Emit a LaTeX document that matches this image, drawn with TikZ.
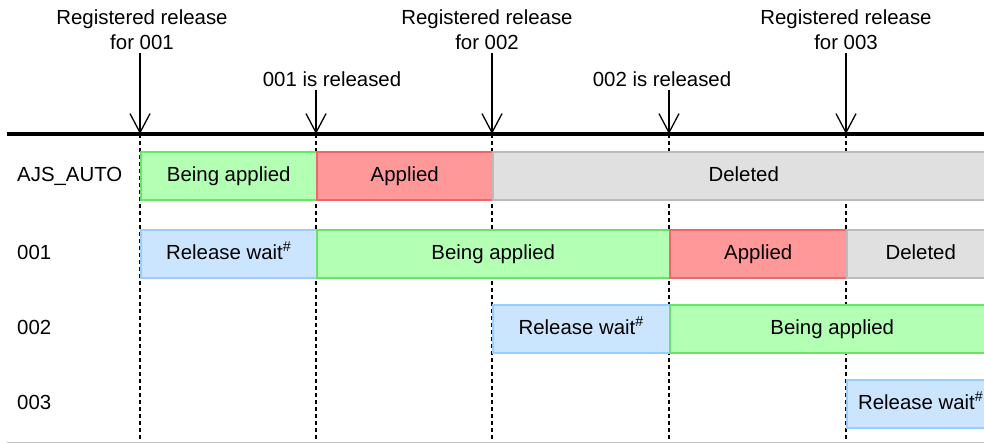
\documentclass[tikz,border=0pt]{standalone}
\usepackage{fontspec}
\setmainfont{Liberation Sans}
\usetikzlibrary{arrows.meta}

\definecolor{applyfill}{HTML}{B3FFB3}
\definecolor{applydraw}{HTML}{66E666}
\definecolor{donefill}{HTML}{FF9999}
\definecolor{donedraw}{HTML}{F06666}
\definecolor{delfill}{HTML}{E0E0E0}
\definecolor{deldraw}{HTML}{BBBBBB}
\definecolor{waitfill}{HTML}{CCE5FF}
\definecolor{waitdraw}{HTML}{99CCFF}

\tikzstyle{event}=[align=center,inner xsep=0pt,inner ysep=3pt]
\tikzstyle{rowname}=[anchor=west,inner sep=0pt,text height=14.5pt,text depth=4pt]
\tikzstyle{state}=[draw,line width=1.5pt,anchor=west,minimum height=48pt,inner sep=0pt,text height=14.5pt,text depth=4pt]
\tikzstyle{being}=[state,fill=applyfill,draw=applydraw]
\tikzstyle{applied}=[state,fill=donefill,draw=donedraw]
\tikzstyle{deleted}=[state,fill=delfill,draw=deldraw]
\tikzstyle{waiting}=[state,fill=waitfill,draw=waitdraw]
\tikzstyle{time arrow}=[draw,line width=1.3pt,-{Straight Barb[length=19pt,width=20pt,line width=1.3pt]}]
\tikzstyle{guide}=[draw,line width=1.3pt,dash pattern=on 4pt off 3pt]

\begin{document}
\begin{tikzpicture}[x=1pt,y=-1pt,every node/.style={font=\fontsize{20.4}{25}\selectfont}]
			\useasboundingbox (0,0) rectangle (984,443);
			\clip (0,0) rectangle (984,443);
			% points on the time line
			\coordinate (t1) at (140,134);
			\coordinate (t2) at (316,134);
			\coordinate (t3) at (492,134);
			\coordinate (t4) at (669,134);
			\coordinate (t5) at (846,134);
			\coordinate (left) at (7,134);
			\coordinate (right) at (984,134);
			\coordinate (bottom) at (7,442);
			% what happens
			\node[event] (reg1) at (142,30) {Registered release\\for 001};
			\node[event] (rel1) at (332,79) {001 is released};
			\node[event] (reg2) at (487,30) {Registered release\\for 002};
			\node[event] (rel2) at (662,79) {002 is released};
			\node[event] (reg3) at (846,30) {Registered release\\for 003};
			% guides down from the time line
			\foreach \t in {t1,t2,t3,t4,t5}
			\path[guide] (\t) -- (\t |- 0,443);
			% rows
			\node[rowname] (auto) at (17,176) {AJS\_AUTO};
			\node[rowname] (r001) at (17,254) {001};
			\node[rowname] (r002) at (17,329) {002};
			\node[rowname] (r003) at (17,404) {003};
			\node[being,minimum width=176pt] (auto1) at (t1 |- auto) {Being applied};
			\node[applied,minimum width=176pt] (auto2) at (t2 |- auto) {Applied};
			\node[deleted,minimum width=502pt] (auto3) at (t3 |- auto) {Deleted};
			\node[waiting,minimum width=176pt] (a1) at (t1 |- r001) {Release wait\textsuperscript{\#}};
			\node[being,minimum width=353pt] (a2) at (t2 |- r001) {Being applied};
			\node[applied,minimum width=177pt] (a3) at (t4 |- r001) {Applied};
			\node[deleted,minimum width=148pt] (a4) at (t5 |- r001) {Deleted};
			\node[waiting,minimum width=177pt] (b1) at (t3 |- r002) {Release wait\textsuperscript{\#}};
			\node[being,minimum width=325pt] (b2) at (t4 |- r002) {Being applied};
			\node[waiting,minimum width=148pt] (c1) at (t5 |- r003) {Release wait\textsuperscript{\#}};
			% time line
			\draw[line width=3.5pt] (left) -- (right);
			\draw[line width=1pt,black!25] (bottom) -- (bottom -| right);
			\foreach \source/ \dest in {reg1/t1, rel1/t2, reg2/t3, rel2/t4, reg3/t5}
			\path[time arrow] (\source.south -| \dest) -- (\dest);
		\end{tikzpicture}
\end{document}
